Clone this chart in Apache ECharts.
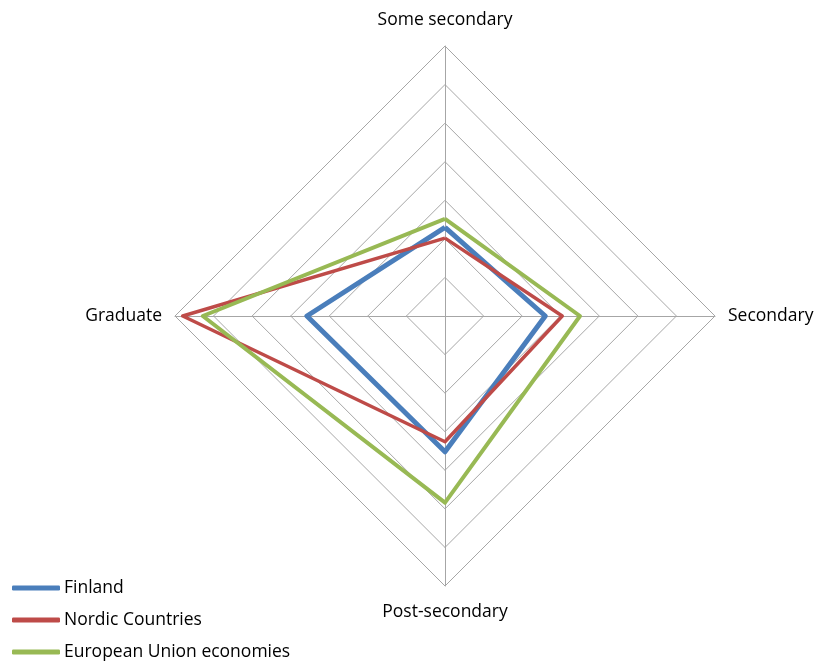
<!DOCTYPE html>
<html>
<head>
<meta charset="utf-8">
<script src="https://cdn.jsdelivr.net/npm/echarts@6/dist/echarts.min.js"></script>
<style>
  html, body { margin: 0; padding: 0; background: #ffffff; }
  #chart { width: 817px; height: 661px; }
</style>
</head>
<body>
<div id="chart"></div>
<script>
// Education attainment profile (share of population, %)
const axisNames = ['Some secondary', 'Graduate', 'Post-secondary', 'Secondary'];
const axisMax = 35;

const finland = [11.5, 17.9, 17.6, 13.0];
const nordic = [10.1, 34.0, 16.3, 15.2];
const euEconomies = [12.6, 31.4, 24.2, 17.5];

const seriesNames = ['Finland', 'Nordic Countries', 'European Union economies'];
const seriesColors = ['#4a7ebb', '#be4b48', '#98b954'];
const seriesWidths = [5, 3.5, 4];
const seriesValues = [finland, nordic, euEconomies];

const chart = echarts.init(document.getElementById('chart'));

const fontFamily = '"Open Sans", "Noto Sans", sans-serif';
const fontSize = 17.5;

// one stacked legend entry per series, each placed on its own row
const legendRows = seriesNames.map((n, i) => ({
  orient: 'vertical',
  left: 12,
  top: 579 + i * 32,
  padding: 0,
  itemWidth: 48,
  itemHeight: 5,
  icon: 'roundRect',
  data: [{ name: n, itemStyle: { color: seriesColors[i] } }],
  textStyle: { fontSize: fontSize, color: '#000', fontFamily: fontFamily, padding: [0, 0, 0, -1] }
}));

chart.setOption({
  animation: false,
  textStyle: { fontFamily: fontFamily },
  legend: legendRows,
  radar: {
    center: [445, 316],
    radius: 270,
    startAngle: 90,
    shape: 'polygon',
    splitNumber: 7,
    indicator: axisNames.map(n => ({ name: n, min: 0, max: axisMax })),
    axisName: { color: '#000', fontSize: fontSize, fontFamily: fontFamily, padding: [4, 0, 4, 0] },
    nameGap: 13,
    axisLine: { lineStyle: { color: '#a6a6a6', width: 1 } },
    splitLine: { lineStyle: { color: '#a6a6a6', width: 1 } },
    splitArea: { show: false },
    axisTick: { show: false },
    axisLabel: { show: false }
  },
  series: [{
    type: 'radar',
    symbol: 'none',
    data: seriesValues.map((vals, i) => ({
      name: seriesNames[i],
      value: vals,
      lineStyle: { color: seriesColors[i], width: seriesWidths[i] },
      itemStyle: { color: seriesColors[i] }
    }))
  }]
});
</script>
</body>
</html>
